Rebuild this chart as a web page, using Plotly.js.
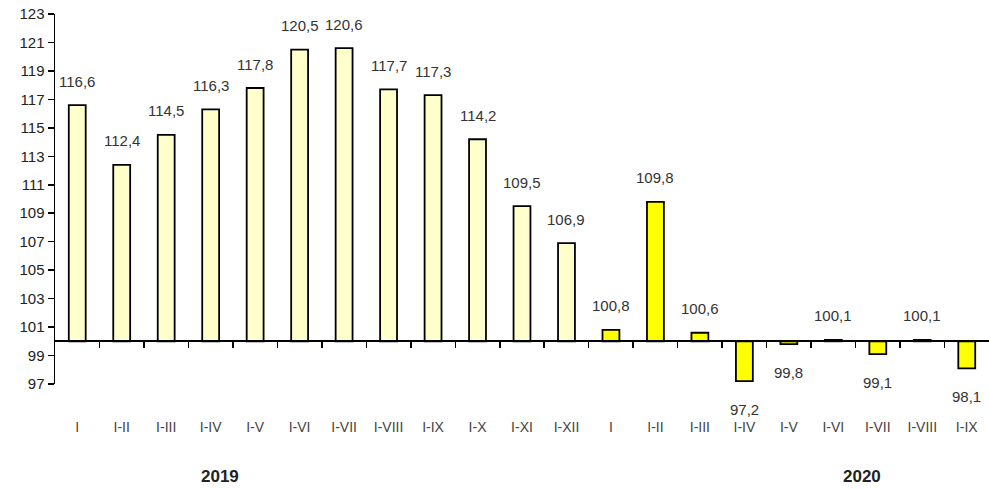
<!DOCTYPE html>
<html>
<head>
<meta charset="utf-8">
<script src="https://cdn.plot.ly/plotly-3.0.1.min.js"></script>
<style>html,body{margin:0;padding:0;background:#fff;}#chart{width:989px;height:489px;}</style>
</head>
<body>
<div id="chart"></div>
<script>
// Data
const cats2019 = ['I','I-II','I-III','I-IV','I-V','I-VI','I-VII','I-VIII','I-IX','I-X','I-XI','I-XII'];
const vals2019 = [116.6,112.4,114.5,116.3,117.8,120.5,120.6,117.7,117.3,114.2,109.5,106.9];
const cats2020 = ['I','I-II','I-III','I-IV','I-V','I-VI','I-VII','I-VIII','I-IX'];
const vals2020 = [100.8,109.8,100.6,97.2,99.8,100.1,99.1,100.1,98.1];
const years = ['2019','2020'];
const baseValue = 100;
const yMin = 97, yMax = 123;

const idx2019 = cats2019.map((c,i)=>i);
const idx2020 = cats2020.map((c,i)=>i + cats2019.length);
const allIdx = idx2019.concat(idx2020);
const allCats = cats2019.concat(cats2020);
const allVals = vals2019.concat(vals2020);
const nCat = allCats.length;

const fontFam = '"Liberation Sans", Arial, sans-serif';

const barStyle = (color) => ({color: color, line: {color: '#000', width: 1.8}});

const traces = [
  {type:'bar', x: idx2019, y: vals2019.map(v=>v-baseValue), base: baseValue, marker: barStyle('#FFFFCC'), width: 0.38, hoverinfo:'skip', showlegend:false},
  {type:'bar', x: idx2020, y: vals2020.map(v=>v-baseValue), base: baseValue, marker: barStyle('#FFFF00'), width: 0.38, hoverinfo:'skip', showlegend:false},
  {type:'scatter', x: [allIdx[0], allIdx[nCat-1]], y: [baseValue, baseValue], xaxis:'x2', mode:'none', hoverinfo:'skip', showlegend:false}
];

const annotations = allVals.map((v,i)=>({
  x: allIdx[i], y: v, xref:'x', yref:'y',
  text: v.toFixed(1).replace('.', ','),
  showarrow:false,
  yshift: v >= baseValue ? 24 : -28,
  font:{family:fontFam, size:15, color:'#333'}
}));

const yearPos = [3.2, 17.65];
years.forEach((yr,i)=>{
  annotations.push({x: yearPos[i], y: -0.25, xref:'x', yref:'paper', yanchor:'middle', text:'<b>'+yr+'</b>', showarrow:false,
    font:{family:fontFam, size:17, color:'#222'}});
});

const boundaries = allIdx.slice(0,-1).map(i=>i+0.5);

const layout = {
  width: 989, height: 489,
  margin: {l:55, r:0, t:14, b:105},
  paper_bgcolor:'#fff', plot_bgcolor:'#fff',
  barmode:'overlay',
  font:{family:fontFam, color:'#222'},
  xaxis: {
    range:[-0.5, nCat-0.5], tickvals: allIdx, ticktext: allCats,
    showline:false, showgrid:false, zeroline:false, ticks:'',
    ticklabelstandoff: 33,
    tickfont:{family:fontFam, size:14, color:'#444'}
  },
  xaxis2: {
    overlaying:'x', anchor:'free', position:(baseValue-yMin)/(yMax-yMin),
    range:[-0.5, nCat-0.5], tickvals: boundaries, showticklabels:false,
    showline:true, linecolor:'#000', linewidth:2, ticks:'outside', ticklen:6, tickwidth:1.5, tickcolor:'#000',
    showgrid:false, zeroline:false
  },
  yaxis: {
    range:[yMin, yMax], tick0: yMin, dtick: 2,
    showline:true, linecolor:'#000', linewidth:1.5, ticks:'outside', ticklen:6, tickwidth:1.5, tickcolor:'#000',
    showgrid:false, zeroline:false,
    tickfont:{family:fontFam, size:15, color:'#222'}
  },
  annotations: annotations
};

Plotly.newPlot('chart', traces, layout, {staticPlot:true, displayModeBar:false});
</script>
</body>
</html>
